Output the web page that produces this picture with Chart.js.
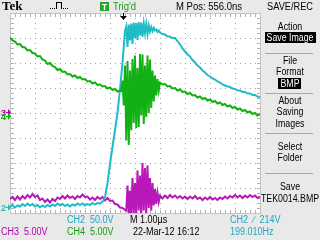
<!DOCTYPE html>
<html><head><meta charset="utf-8">
<script src="https://cdn.jsdelivr.net/npm/chart.js@4.4.1/dist/chart.umd.min.js"></script>
<style>html,body{margin:0;padding:0;background:#e9e9e9;}canvas{display:block;}</style>
</head><body>
<canvas id="c" width="320" height="240"></canvas>
<script>
// Samples: [time in µs from left edge of screen, level in screen divisions from bottom]
const ch4Samples = [[0.0,7.02],[0.1,6.90],[0.2,6.86],[0.3,6.74],[0.4,6.76],[0.5,6.64],[0.6,6.62],[0.7,6.50],[0.8,6.52],[0.9,6.40],[1.0,6.38],[1.1,6.26],[1.2,6.28],[1.3,6.14],[1.4,6.10],[1.5,5.96],[1.6,6.00],[1.7,5.88],[1.8,5.84],[1.9,5.72],[2.0,5.76],[2.1,5.64],[2.2,5.66],[2.3,5.54],[2.4,5.56],[2.5,5.46],[2.6,5.50],[2.7,5.40],[2.8,5.44],[2.9,5.34],[3.0,5.36],[3.1,5.26],[3.2,5.28],[3.3,5.18],[3.4,5.22],[3.5,5.12],[3.6,5.14],[3.7,5.06],[3.8,5.08],[3.9,4.98],[4.0,5.02],[4.1,4.92],[4.2,4.96],[4.3,4.86],[4.4,4.90],
[4.45,4.88],[4.50,5.30],[4.55,4.30],[4.60,5.90],[4.65,2.90],[4.70,6.08],[4.75,2.72],[4.80,5.70],[4.85,3.30],[4.90,6.16],[4.95,3.60],[5.00,6.30],[5.05,3.40],[5.10,5.80],[5.15,3.44],[5.20,6.36],[5.25,3.90],[5.30,6.34],[5.35,3.56],[5.40,5.90],[5.45,3.84],[5.50,6.30],[5.55,4.00],[5.60,6.14],[5.65,4.20],[5.70,5.70],[5.75,4.46],[5.80,5.50],[5.85,4.70],[5.90,5.36],[5.95,4.90],[6.00,5.22],
[6.1,5.14],[6.2,5.16],[6.3,5.06],[6.4,5.08],[6.5,4.98],[6.6,5.00],[6.7,4.90],[6.8,4.94],[6.9,4.84],[7.0,4.86],[7.1,4.76],[7.2,4.80],[7.3,4.70],[7.4,4.72],[7.5,4.62],[7.6,4.66],[7.7,4.56],[7.8,4.60],[7.9,4.50],[8.0,4.54],[8.1,4.44],[8.2,4.48],[8.3,4.38],[8.4,4.42],[8.5,4.32],[8.6,4.36],[8.7,4.26],[8.8,4.30],[8.9,4.20],[9.0,4.24],[9.1,4.14],[9.2,4.18],[9.3,4.08],[9.4,4.12],[9.5,4.02],[9.6,4.06],[9.7,3.96],[9.8,4.00],[9.9,3.90],[10.0,3.94]];

const ch2Samples = [[0.0,0.24],[0.1,0.32],[0.2,0.22],[0.3,0.30],[0.4,0.26],[0.5,0.36],[0.6,0.28],[0.7,0.38],[0.8,0.30],[0.9,0.36],[1.0,0.26],[1.1,0.32],[1.2,0.22],[1.3,0.30],[1.4,0.24],[1.5,0.32],[1.6,0.26],[1.7,0.34],[1.8,0.28],[1.9,0.38],[2.0,0.30],[2.1,0.36],[2.2,0.28],[2.3,0.34],[2.4,0.26],[2.5,0.34],[2.6,0.30],[2.7,0.38],[2.8,0.32],[2.9,0.38],[3.0,0.30],[3.1,0.36],[3.2,0.32],[3.3,0.40],[3.4,0.34],[3.5,0.40],[3.6,0.38],[3.7,0.46],
[3.8,0.62],[3.9,1.20],[4.0,1.96],[4.1,2.64],[4.2,3.32],[4.3,4.00],[4.4,4.96],[4.5,6.00],[4.6,7.30],
[4.65,7.46],[4.70,6.64],[4.75,7.54],[4.80,6.90],[4.85,7.58],[4.90,6.76],[4.95,7.62],[5.00,7.00],[5.05,7.60],[5.10,6.92],[5.15,7.64],[5.20,7.10],[5.25,7.62],[5.30,7.04],[5.35,7.58],[5.40,7.20],[5.45,7.56],[5.50,7.16],[5.55,7.50],[5.60,7.26],[5.65,7.44],[5.70,7.28],[5.75,7.40],[5.80,7.30],[5.85,7.34],[5.90,7.24],[5.95,7.30],[6.00,7.22],
[6.1,7.16],[6.2,7.14],[6.3,7.06],[6.4,7.06],[6.5,7.00],[6.6,7.00],[6.7,6.88],[6.8,6.74],[6.9,6.58],[7.0,6.46],[7.1,6.34],[7.2,6.26],[7.3,6.12],[7.4,6.02],[7.5,5.90],[7.6,5.82],[7.7,5.70],[7.8,5.62],[7.9,5.52],[8.0,5.46],[8.1,5.38],[8.2,5.34],[8.3,5.26],[8.4,5.22],[8.5,5.14],[8.6,5.10],[8.7,5.06],[8.8,5.04],[8.9,4.98],[9.0,4.96],[9.1,4.90],[9.2,4.90],[9.3,4.84],[9.4,4.84],[9.5,4.78],[9.6,4.78],[9.7,4.72],[9.8,4.72],[9.9,4.66],[10.0,4.64]];

const ch3Samples = [[0.0,0.56],[0.1,0.64],[0.2,0.52],[0.3,0.66],[0.4,0.54],[0.5,0.68],[0.6,0.58],[0.7,0.72],[0.8,0.62],[0.9,0.76],[1.0,0.64],[1.1,0.70],[1.2,0.52],[1.3,0.58],[1.4,0.44],[1.5,0.54],[1.6,0.42],[1.7,0.56],[1.8,0.48],[1.9,0.62],[2.0,0.56],[2.1,0.68],[2.2,0.58],[2.3,0.70],[2.4,0.60],[2.5,0.66],[2.6,0.56],[2.7,0.68],[2.8,0.62],[2.9,0.74],[3.0,0.64],[3.1,0.66],[3.2,0.54],[3.3,0.62],[3.4,0.52],[3.5,0.64],[3.6,0.56],[3.7,0.64],[3.8,0.50],[3.9,0.60],[4.0,0.48],[4.1,0.50],[4.2,0.36],[4.3,0.34],[4.4,0.22],[4.5,0.20],[4.6,0.12],
[4.65,0.10],[4.70,1.10],[4.75,-0.10],[4.80,0.90],[4.85,-0.10],[4.90,1.40],[4.95,0.00],[5.00,1.20],[5.05,-0.10],[5.10,1.70],[5.15,0.10],[5.20,1.50],[5.25,-0.10],[5.30,2.00],[5.35,0.10],[5.40,1.80],[5.45,0.00],[5.50,1.90],[5.55,0.20],[5.60,1.40],[5.65,0.10],[5.70,1.20],[5.75,0.30],[5.80,0.96],[5.85,0.36],[5.90,0.80],[5.95,0.44],[6.00,0.70],
[6.1,0.58],[6.2,0.70],[6.3,0.60],[6.4,0.72],[6.5,0.62],[6.6,0.70],[6.7,0.60],[6.8,0.68],[6.9,0.58],[7.0,0.66],[7.1,0.56],[7.2,0.66],[7.3,0.58],[7.4,0.68],[7.5,0.56],[7.6,0.62],[7.7,0.52],[7.8,0.62],[7.9,0.54],[8.0,0.64],[8.1,0.54],[8.2,0.60],[8.3,0.52],[8.4,0.62],[8.5,0.56],[8.6,0.66],[8.7,0.58],[8.8,0.68],[8.9,0.62],[9.0,0.72],[9.1,0.62],[9.2,0.70],[9.3,0.60],[9.4,0.70],[9.5,0.62],[9.6,0.72],[9.7,0.64],[9.8,0.70],[9.9,0.60],[10.0,0.66]];

// Channel ground markers (screen divisions) and trigger position (µs)
const channelMarkers = [["2", 0.24], ["3", 4.04], ["4", 3.88]];
const triggerTime = 4.52;
const xDivs = 10, yDivs = 8;

// Readout texts
const topTexts = { logo: "Tek", trig: "Trig'd", mpos: "M Pos: 556.0ns", menuTitle: "SAVE/REC" };
const statusRow1 = [["CH2  50.0V", "ch2"], ["M 1.00µs", "k"], ["CH2  \u2215  214V", "ch2"]];
const statusRow2 = [["CH3  5.00V", "ch3"], ["CH4  5.00V", "ch4"], ["22-Mar-12 16:12", "k"], ["199.010Hz", "ch2"]];
const menuLines = [["Action",30,false],["Save Image",41,true],["File",64,false],["Format",75,false],["BMP",87,true],["About",104,false],["Saving",115,false],["Images",127,false],["Select",150,false],["Folder",161,false],["Save",190,false],["TEK0014.BMP",202,false]];
const menuSeparators = [52.5, 92.5, 132.5, 172.5];

const COL = { ch2: '#1fbcc8', ch3: '#b818b8', ch4: '#12b012', ch2t: '#22a6c4', ch3t: '#b000b0', ch4t: '#12a012', k: '#000000' };

function drawText(ctx, s, x, y, color, font, sx, align) {
  ctx.save();
  ctx.font = font; ctx.fillStyle = color; ctx.textBaseline = 'alphabetic';
  const w = ctx.measureText(s).width * sx;
  const lx = align === 'center' ? x - w / 2 : x;
  ctx.translate(lx, y); ctx.scale(sx, 1); ctx.fillText(s, 0, 0);
  ctx.restore();
  return w;
}

const scopePlugin = {
  id: 'scope',
  beforeDraw(chart) {
    const ctx = chart.ctx, a = chart.chartArea;
    ctx.save();
    ctx.fillStyle = '#e9e9e9'; ctx.fillRect(0, 0, chart.width, chart.height);
    ctx.fillStyle = '#ffffff'; ctx.fillRect(a.left, a.top, a.right - a.left, a.bottom - a.top);
    const xs = chart.scales.x, ys = chart.scales.y;
    // dotted grid
    ctx.fillStyle = '#a0a0a0';
    for (let d = 1; d < xDivs; d++) {
      const px = Math.round(xs.getPixelForValue(d));
      for (let y = a.top + 5; y < a.bottom - 1; y += 5) ctx.fillRect(px, y, 1, 1);
    }
    for (let d = 1; d < yDivs; d++) {
      const py = Math.round(ys.getPixelForValue(d));
      for (let x = a.left + 5; x < a.right - 1; x += 5) ctx.fillRect(x, py, 1, 1);
    }
    // frame with minor ticks
    ctx.fillStyle = '#c4c4c4';
    const L = Math.round(a.left), R = Math.round(a.right), T = Math.round(a.top), B = Math.round(a.bottom);
    ctx.fillRect(L, T, R - L + 1, 1); ctx.fillRect(L, B, R - L + 1, 1);
    ctx.fillRect(L, T, 1, B - T + 1); ctx.fillRect(R, T, 1, B - T + 1);
    ctx.fillStyle = '#b0b0b0';
    for (let x = L + 5; x < R; x += 5) { ctx.fillRect(x, T + 1, 1, 3); ctx.fillRect(x, B - 3, 1, 3); }
    for (let y = T + 5; y < B; y += 5) { ctx.fillRect(L + 1, y, 3, 1); ctx.fillRect(R - 3, y, 3, 1); }
    ctx.restore();
  },
  afterDraw(chart) {
    const ctx = chart.ctx, a = chart.chartArea;
    const xs = chart.scales.x, ys = chart.scales.y;
    const F = '10px "Liberation Sans", Arial, sans-serif';
    ctx.save();
    // trigger position arrow
    const tx = Math.round(xs.getPixelForValue(triggerTime));
    ctx.fillStyle = '#000';
    ctx.fillRect(tx, a.top, 1, 3);
    ctx.beginPath(); ctx.moveTo(tx - 3, a.top + 3); ctx.lineTo(tx + 4, a.top + 3); ctx.lineTo(tx + 0.5, a.top + 7); ctx.closePath(); ctx.fill();
    // channel markers
    const mc = { "2": COL.ch2, "3": COL.ch3t, "4": COL.ch4 };
    channelMarkers.forEach(([n, lv]) => {
      const py = Math.round(ys.getPixelForValue(lv));
      drawText(ctx, n, 1, py + 4, mc[n], 'bold 9px "Liberation Sans", sans-serif', 1, 'left');
      ctx.fillStyle = mc[n];
      ctx.fillRect(6, py, 3, 1);
      ctx.beginPath(); ctx.moveTo(8, py - 3); ctx.lineTo(11, py + 0.5); ctx.lineTo(8, py + 4); ctx.closePath(); ctx.fill();
    });
    // top bar
    drawText(ctx, topTexts.logo, 2, 10, '#000', 'bold 13px "Liberation Serif", serif', 1, 'left');
    ctx.fillStyle = '#000';
    for (let x = 50; x < 56; x += 2) ctx.fillRect(x, 8, 1, 1);
    ctx.fillRect(56, 2, 1, 7); ctx.fillRect(56, 2, 6, 1); ctx.fillRect(61, 2, 1, 7);
    for (let x = 63; x < 69; x += 2) ctx.fillRect(x, 8, 1, 1);
    ctx.fillStyle = '#22a822'; ctx.fillRect(100, 2, 9, 9);
    drawText(ctx, 'T', 104.5, 10, '#fff', 'bold 9px "Liberation Sans", sans-serif', 1, 'center');
    drawText(ctx, topTexts.trig, 113, 10, '#1ea01e', F, 0.95, 'left');
    drawText(ctx, topTexts.mpos, 176, 10, '#000', F, 0.95, 'left');
    drawText(ctx, topTexts.menuTitle, 290, 10, '#000', F, 0.92, 'center');
    // status rows
    const tc = { ch2: COL.ch2t, ch3: COL.ch3t, ch4: COL.ch4t, k: '#000' };
    const r1x = [67, 130, 230], r2x = [1, 67, 133, 230];
    statusRow1.forEach(([s, c], i) => drawText(ctx, s, r1x[i], 223, tc[c], F, 0.9, 'left'));
    statusRow2.forEach(([s, c], i) => drawText(ctx, s, r2x[i], 235, tc[c], F, 0.9, 'left'));
    // menu
    ctx.fillStyle = '#a8a8a8';
    menuSeparators.forEach(y => ctx.fillRect(265, Math.round(y), 48, 1));
    menuLines.forEach(([s, y, hl]) => {
      ctx.save(); ctx.font = F; const w = ctx.measureText(s).width * 0.88; ctx.restore();
      if (hl) { ctx.fillStyle = '#000'; ctx.fillRect(Math.round(290 - w / 2 - 2), y - 9, Math.round(w + 4), 11); }
      drawText(ctx, s, 290, y, hl ? '#fff' : '#000', F, 0.88, 'center');
    });
    ctx.restore();
  }
};

const toXY = s => s.map(([t, v]) => ({ x: t, y: v }));

new Chart(document.getElementById('c').getContext('2d'), {
  type: 'line',
  data: {
    datasets: [
      { label: 'CH4', data: toXY(ch4Samples), borderColor: COL.ch4, borderWidth: 2, clip: 0 },
      { label: 'CH2', data: toXY(ch2Samples), borderColor: COL.ch2, borderWidth: 2, clip: 0 },
      { label: 'CH3', data: toXY(ch3Samples), borderColor: COL.ch3, borderWidth: 2, clip: 0 }
    ]
  },
  options: {
    responsive: false, animation: false, events: [],
    layout: { padding: { left: 10, top: 13, right: 60, bottom: 27 } },
    scales: {
      x: { type: 'linear', min: 0, max: xDivs, display: false },
      y: { min: 0, max: yDivs, display: false }
    },
    elements: { point: { radius: 0 }, line: { tension: 0 } },
    plugins: { legend: { display: false }, tooltip: { enabled: false } }
  },
  plugins: [scopePlugin]
});
</script>
</body></html>
